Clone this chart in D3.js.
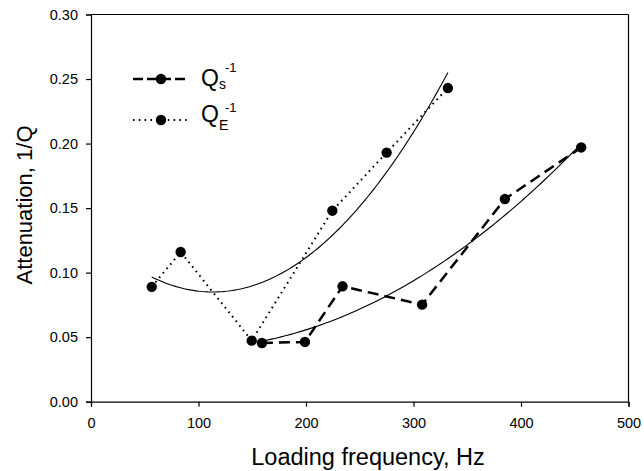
<!DOCTYPE html>
<html>
<head>
<meta charset="utf-8">
<script src="https://d3js.org/d3.v7.min.js"></script>
<style>
  body { margin: 0; background: #fff; }
  text { font-family: "Liberation Sans", Arial, sans-serif; fill: #000; }
</style>
</head>
<body>
<script>
// Q_s^-1 measurements (dashed)
const qsFreq = [159, 199, 234, 308, 385, 456];
const qsVal  = [0.0455, 0.0463, 0.0894, 0.0752, 0.157, 0.197];
// Q_E^-1 measurements (dotted)
const qeFreq = [56.5, 83.4, 149.5, 224.5, 275, 332];
const qeVal  = [0.089, 0.116, 0.0473, 0.148, 0.193, 0.243];

const xTicks = [0, 100, 200, 300, 400, 500];
const yTicks = [0, 0.05, 0.10, 0.15, 0.20, 0.25, 0.30];

const W = 644, H = 471;
const plotL = 91, plotR = 628.5, plotT = 14.5, plotB = 401.7;

const svg = d3.select("body").append("svg")
  .attr("width", W).attr("height", H);

const x = d3.scaleLinear().domain([0, 500]).range([plotL, plotR]);
const y = d3.scaleLinear().domain([0, 0.30]).range([plotB, plotT]);

// frame (top + right)
svg.append("line").attr("x1", plotL).attr("x2", plotR).attr("y1", plotT).attr("y2", plotT)
  .attr("stroke", "#000").attr("stroke-width", 1.2);
svg.append("line").attr("x1", plotR).attr("x2", plotR).attr("y1", plotT).attr("y2", plotB)
  .attr("stroke", "#000").attr("stroke-width", 1.2);

// axes
const xAxis = svg.append("g")
  .attr("transform", "translate(0," + plotB + ")")
  .call(d3.axisBottom(x).tickValues(xTicks).tickSize(5).tickPadding(11).tickFormat(d3.format("d")));
const yAxis = svg.append("g")
  .attr("transform", "translate(" + plotL + ",0)")
  .call(d3.axisLeft(y).tickValues(yTicks).tickSize(5).tickPadding(8).tickFormat(d3.format(".2f")));
[xAxis, yAxis].forEach(function(g) {
  g.select(".domain").attr("stroke", "#000").attr("stroke-width", 1.2);
  g.selectAll(".tick line").attr("stroke", "#000").attr("stroke-width", 1.2);
  g.selectAll(".tick text").attr("font-size", 14.5).attr("fill", "#000")
    .style("font-family", "'Liberation Sans', Arial, sans-serif");
});

// axis titles
svg.append("text")
  .attr("x", 368).attr("y", 465)
  .attr("text-anchor", "middle").attr("font-size", 23.5)
  .text("Loading frequency, Hz");
svg.append("text")
  .attr("transform", "translate(32,205) rotate(-90)")
  .attr("text-anchor", "middle").attr("font-size", 22)
  .text("Attenuation, 1/Q");

// least squares quadratic fit
function quadFit(xs, ys) {
  let s = [0, 0, 0, 0, 0], t = [0, 0, 0];
  xs.forEach(function(xv, i) {
    for (let k = 0; k < 5; k++) s[k] += Math.pow(xv, k);
    for (let k = 0; k < 3; k++) t[k] += Math.pow(xv, k) * ys[i];
  });
  const M = [[s[0], s[1], s[2], t[0]], [s[1], s[2], s[3], t[1]], [s[2], s[3], s[4], t[2]]];
  for (let i = 0; i < 3; i++) {
    for (let j = i + 1; j < 3; j++) {
      const f = M[j][i] / M[i][i];
      for (let k = i; k < 4; k++) M[j][k] -= f * M[i][k];
    }
  }
  const c = [0, 0, 0];
  for (let i = 2; i >= 0; i--) {
    let v = M[i][3];
    for (let k = i + 1; k < 3; k++) v -= M[i][k] * c[k];
    c[i] = v / M[i][i];
  }
  return c;
}

function drawFit(xs, ys) {
  const c = quadFit(xs, ys);
  const lo = d3.min(xs), hi = d3.max(xs);
  const pts = d3.range(0, 101).map(function(i) {
    const xv = lo + (hi - lo) * i / 100;
    return [xv, c[0] + c[1] * xv + c[2] * xv * xv];
  });
  svg.append("path").datum(pts)
    .attr("fill", "none").attr("stroke", "#000").attr("stroke-width", 1.1)
    .attr("d", d3.line().x(function(d) { return x(d[0]); }).y(function(d) { return y(d[1]); }));
}

drawFit(qeFreq, qeVal);
drawFit(qsFreq, qsVal);

function drawSeries(xs, ys, dash, sw) {
  const pts = xs.map(function(v, i) { return [v, ys[i]]; });
  svg.append("path").datum(pts)
    .attr("fill", "none").attr("stroke", "#000").attr("stroke-width", sw)
    .attr("stroke-dasharray", dash)
    .attr("d", d3.line().x(function(d) { return x(d[0]); }).y(function(d) { return y(d[1]); }));
  svg.selectAll(null).data(pts).enter().append("circle")
    .attr("cx", function(d) { return x(d[0]); })
    .attr("cy", function(d) { return y(d[1]); })
    .attr("r", 5.2).attr("fill", "#000");
}

drawSeries(qeFreq, qeVal, "1.6 4.2", 2);
drawSeries(qsFreq, qsVal, "11 6", 2.5);

// legend
const leg = [
  { y: 79, dash: "10 4", sw: 2.5, sub: "s", qy: 86, suby: 88.5, supy: 72 },
  { y: 120, dash: "1.6 4.2", sw: 2, sub: "E", qy: 121.5, suby: 130, supy: 111.5 }
];
leg.forEach(function(l) {
  svg.append("line").attr("x1", 133).attr("x2", 189).attr("y1", l.y).attr("y2", l.y)
    .attr("stroke", "#000").attr("stroke-width", l.sw).attr("stroke-dasharray", l.dash);
  svg.append("circle").attr("cx", 161).attr("cy", l.y).attr("r", 5.2).attr("fill", "#000");
  const t = svg.append("text").attr("font-size", 23);
  t.append("tspan").attr("x", 201).attr("y", l.qy).text("Q");
  t.append("tspan").attr("font-size", 14).attr("x", 219).attr("y", l.suby).text(l.sub);
  t.append("tspan").attr("font-size", 13).attr("x", 225).attr("y", l.supy).text("-1");
});
</script>
</body>
</html>
